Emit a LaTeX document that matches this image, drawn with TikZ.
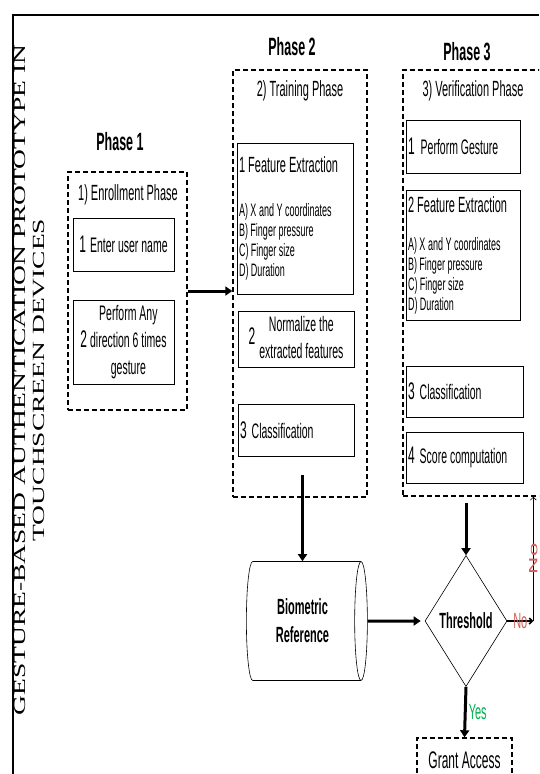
\documentclass[tikz,border=0pt]{standalone}
\usepackage{graphicx}
\usepackage{fontspec}
\setmainfont[FakeStretch=0.5]{Liberation Sans}
\newfontfamily\plainsans{Liberation Sans}
\newfontfamily\titlefont{Liberation Serif}
\usetikzlibrary{arrows.meta,shapes.geometric,positioning}
\definecolor{noRed}{HTML}{D0605A}
\definecolor{yesGreen}{HTML}{00B050}
\newcommand{\bignum}[1]{{\fontsize{24}{24}\selectfont#1}}

\begin{document}
\begin{tikzpicture}[x=1pt,y=-1pt,phasebox/.style={draw,dash pattern=on 5pt off 3pt,line width=1.4pt,inner sep=0pt},stepbox/.style={draw,line width=0.6pt,inner sep=1pt,font=\fontsize{21}{27}\selectfont},itemfont/.style={font=\fontsize{18}{20}\selectfont},phasehead/.style={font=\bfseries\fontsize{25}{27}\selectfont},phasetitle/.style={font=\fontsize{22}{24}\selectfont},flow/.style={-{Triangle[length=7pt,width=9pt]},line width=3pt},retry/.style={-{Straight Barb[length=3pt,width=6pt]},line width=0.6pt}]
\useasboundingbox (0,0) rectangle (539,774);
\clip (0,0) rectangle (539,774);
\draw[line width=1.5pt] (539,15) -- (13,15) -- (13,774);
\node[rotate=90] (title) at (31.5,380) {\scalebox{1}[0.62]{\titlefont\fontsize{27.5}{31}\selectfont\begin{tabular}{c}GESTURE-BASED AUTHENTICATION PROTOTYPE IN\\TOUCHSCREEN DEVICES\end{tabular}}};
\node[phasehead] (h1) at (120,142) {Phase 1};
\node[phasebox,minimum width=119,minimum height=238] (ph1) at (127.5,291) {};
\node[phasetitle] (t1) at (128,195) {1) Enrollment Phase};
\node[stepbox,minimum width=101,minimum height=53] (user) at (123.5,244.5) {\bignum{1}\hspace{4pt}Enter user name};
\node[stepbox,minimum width=101,minimum height=84] (gest) at (123.5,342) {\bignum{2}\hspace{3pt}\begin{tabular}[c]{@{}c@{}}Perform Any\\direction 6 times\\gesture\end{tabular}};
\node[phasehead] (h2) at (292,47) {Phase 2};
\node[phasebox,minimum width=134,minimum height=427] (ph2) at (300,283.5) {};
\node[phasetitle] (t2) at (300,91) {2) Training Phase};
\node[stepbox,itemfont,minimum width=116,minimum height=151,text width=112,align=flush left] (feat2) at (295,218.5) {{\fontsize{22}{24}\selectfont 1 Feature Extraction}\\[24pt]A) X and Y coordinates\\B) Finger pressure\\C) Finger size\\D) Duration};
\node[stepbox,minimum width=116,minimum height=53] (norm) at (296,339.5) {\bignum{2}\hspace{4pt}\begin{tabular}[c]{@{}c@{}}Normalize the\\extracted features\end{tabular}};
\node[stepbox,minimum width=116,minimum height=52,text width=112,align=flush left] (cls2) at (296,430) {\mbox{\bignum{3}\hspace{5pt}Classification}};
\node[phasehead] (h3) at (467,52) {Phase 3};
\node[phasebox,minimum width=157,minimum height=426] (ph3) at (481.5,283) {};
\node[phasetitle] (t3) at (473,91) {3) Verification Phase};
\node[stepbox,minimum width=114,minimum height=53,text width=110,align=flush left] (perf) at (463,146.5) {\mbox{\bignum{1}\hspace{6pt}Perform Gesture}};
\node[stepbox,itemfont,minimum width=114,minimum height=130,text width=110,align=flush left] (feat3) at (463,255) {{\fontsize{22}{24}\selectfont 2 Feature Extraction}\\[18pt]A) X and Y coordinates\\B) Finger pressure\\C) Finger size\\D) Duration};
\node[stepbox,minimum width=117,minimum height=51,text width=113,align=flush left] (cls3) at (464.5,391.5) {\mbox{\bignum{3}\hspace{5pt}Classification}};
\node[stepbox,minimum width=117,minimum height=51,text width=113,align=flush left] (score) at (464.5,457.5) {\mbox{\bignum{4}\hspace{5pt}Score computation}};
\node[cylinder,draw,line width=0.6pt,aspect=0.25,minimum width=119,minimum height=121,align=center,font=\bfseries\fontsize{22}{28}\selectfont] (bio) at (302.5,621) {Biometric\\Reference};
\node[diamond,draw,line width=0.6pt,minimum width=82,minimum height=131,inner sep=0pt,font=\bfseries\fontsize{22}{24}\selectfont] (thr) at (466,621) {Threshold};
\node[phasebox,minimum width=95,minimum height=44,font=\fontsize{24}{26}\selectfont] (grant) at (464.5,760) {Grant Access};
\draw[flow] (ph1.east) -- (ph1.east -| ph2.west);
\draw[flow,shorten <=19pt] (cls2.south -| bio.north) -- (bio.north);
\draw[flow,shorten <=6pt] (ph3.south -| thr.north) -- (thr.north);
\draw[flow,shorten >=4pt] (bio.east) -- (thr.west);
\draw[flow] (thr.south) -- (grant.north) node[midway,right,inner sep=2pt,text=yesGreen,font=\fontsize{22}{24}\selectfont] {Yes};
\path (thr.east) ++(26,0) coordinate (turn);
\draw[retry,line width=1.5pt] (thr.east) -- (turn) node[midway,text=noRed,font=\fontsize{22}{24}\selectfont] {No};
\draw[retry] (turn) -- (turn |- ph3.south) node[midway,rotate=90,inner sep=1pt,text=noRed] {\scalebox{1}[0.5]{\plainsans\fontsize{24}{26}\selectfont No}};
\end{tikzpicture}
\end{document}
